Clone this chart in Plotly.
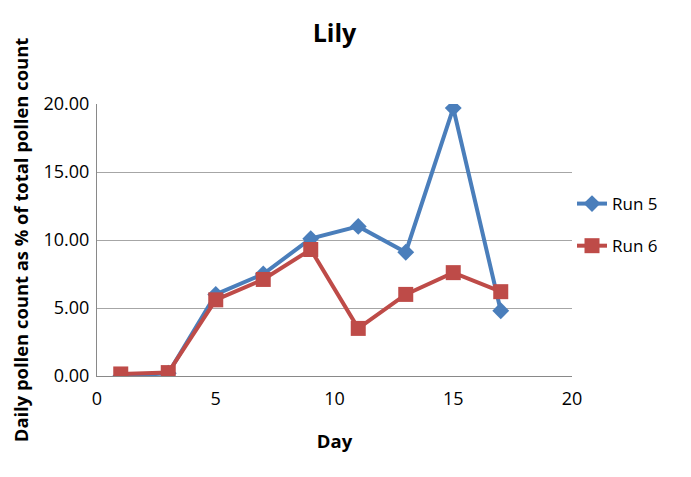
import plotly.graph_objects as go

days = [1, 3, 5, 7, 9, 11, 13, 15, 17]
run5 = [0.0, 0.2, 6.0, 7.5, 10.1, 11.0, 9.1, 19.7, 4.8]
run6 = [0.15, 0.25, 5.6, 7.1, 9.3, 3.5, 6.0, 7.6, 6.2]

BLUE = "#4A7EBB"
RED = "#BE4B48"
FONT = "Open Sans, Liberation Sans, sans-serif"

fig = go.Figure()
for name, vals, color, symbol, size, grp in [
    ("Run 5", run5, BLUE, "diamond", 13, "a"),
    ("Run 6", run6, RED, "square", 15, "b"),
]:
    fig.add_trace(
        go.Scatter(
            x=days,
            y=vals,
            mode="lines+markers",
            name=name,
            legendgroup=grp,
            line=dict(color=color, width=4),
            marker=dict(symbol=symbol, size=size, color=color),
        )
    )

# page body adds an 8px offset, so margins are shifted to compensate
fig.update_layout(
    width=691,
    height=477,
    paper_bgcolor="white",
    plot_bgcolor="white",
    margin=dict(l=89, r=127, t=96, b=109, autoexpand=False),
    font=dict(family=FONT, size=15, color="black"),
    title=dict(
        text="<b>Lily</b>",
        x=0.5,
        xanchor="center",
        xref="paper",
        y=0.948,
        yanchor="middle",
        yref="container",
        automargin=False,
        font=dict(size=25),
    ),
    xaxis=dict(
        range=[0, 20],
        dtick=5,
        automargin=False,
        showgrid=False,
        showline=True,
        linecolor="#898989",
        linewidth=1,
        ticks="outside",
        ticklen=6,
        tickcolor="rgba(0,0,0,0)",
        tickfont=dict(size=18),
        zeroline=False,
        title=dict(text="<b>Day</b>", font=dict(size=18.5), standoff=26),
    ),
    yaxis=dict(
        range=[0, 20],
        dtick=5,
        tickformat=".2f",
        automargin=False,
        showgrid=True,
        gridcolor="#A6A6A6",
        gridwidth=1,
        showline=True,
        linecolor="#898989",
        linewidth=1,
        ticks="outside",
        ticklen=3,
        tickcolor="rgba(0,0,0,0)",
        tickfont=dict(size=18),
        zeroline=False,
        title=dict(
            text="<b>Daily pollen count as % of total pollen count</b>",
            font=dict(size=18.4),
            standoff=12,
        ),
    ),
    legend=dict(
        x=1.0,
        xanchor="left",
        y=0.555,
        yanchor="middle",
        tracegroupgap=17,
        font=dict(size=17),
        bgcolor="rgba(0,0,0,0)",
    ),
)

fig.write_html("out.html")
